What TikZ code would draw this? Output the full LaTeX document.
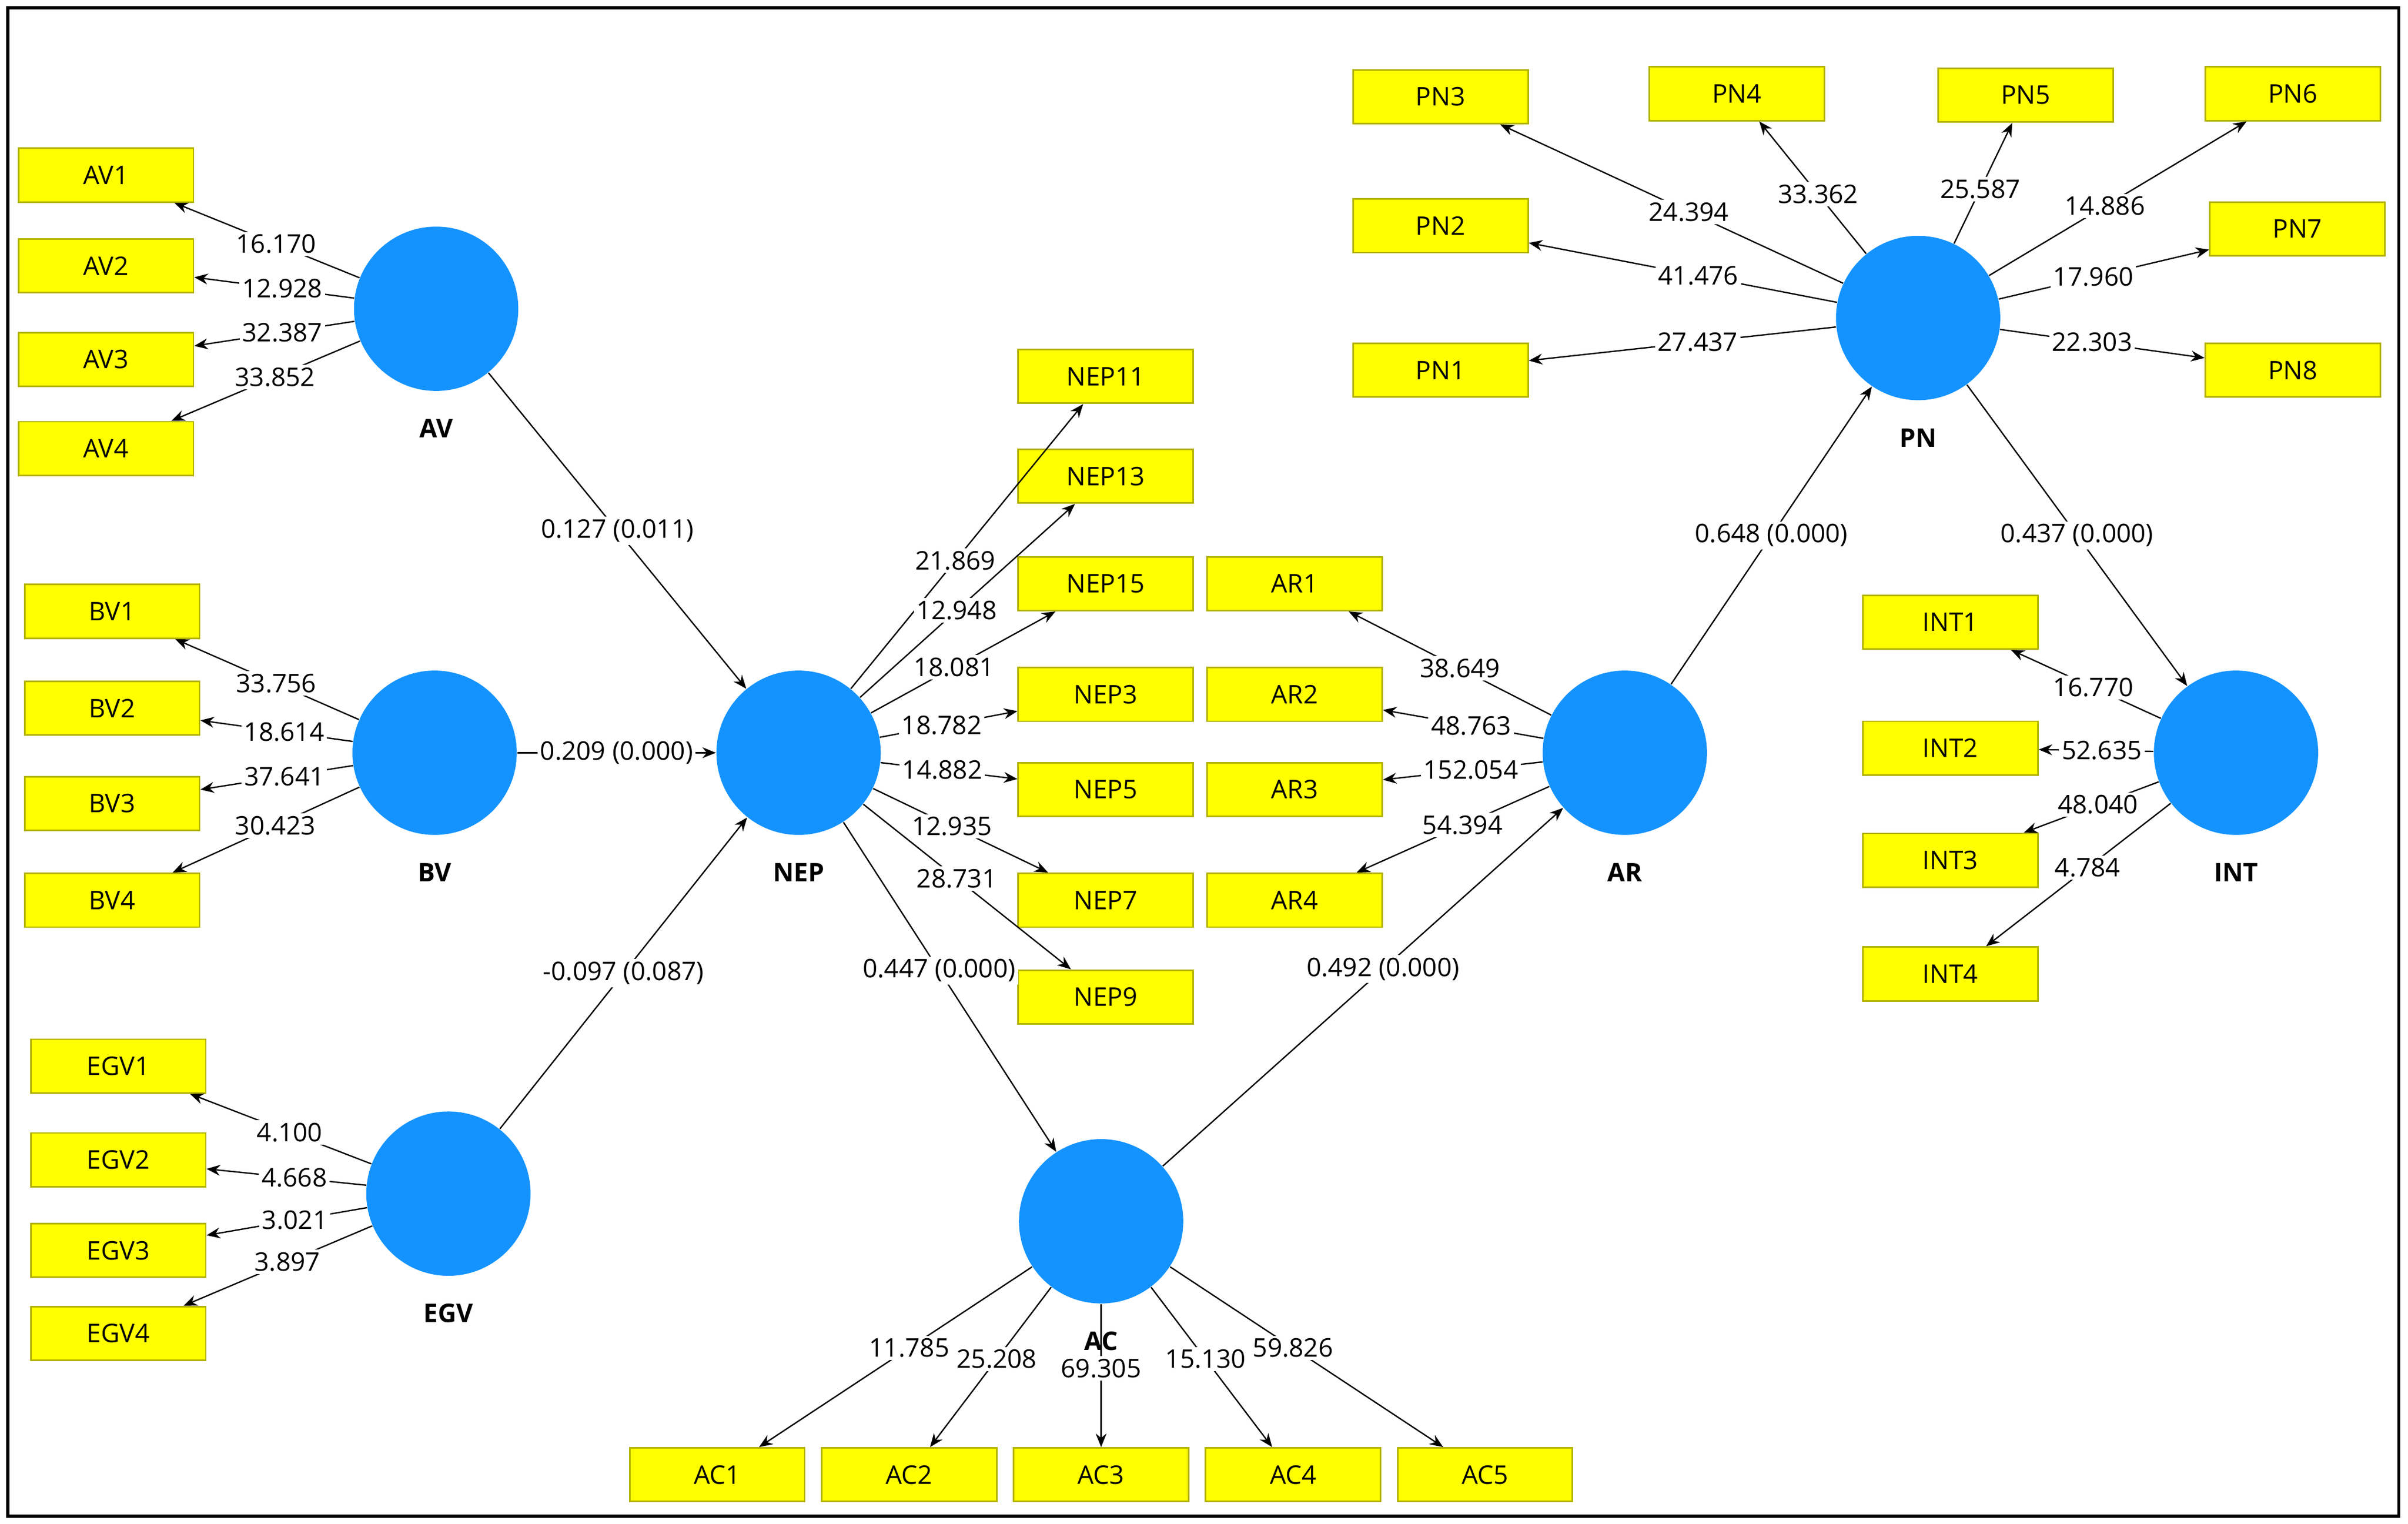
\documentclass[tikz,border=0pt]{standalone}
\usepackage{fontspec}
\setmainfont{Open Sans}
\usetikzlibrary{arrows.meta}
\definecolor{lvblue}{HTML}{1493FF}
\definecolor{ind}{HTML}{FFFF00}
\begin{document}
\begin{tikzpicture}[x=0.02cm,y=-0.02cm,
  lv/.style={circle,fill=lvblue,minimum size=2.14cm,inner sep=0},
  mv/.style={rectangle,fill=ind,draw=ind!70!black,line width=0.6pt,minimum width=2.28cm,minimum height=0.7cm,font=\fontsize{9.5}{11}\selectfont},
  lvl/.style={font=\bfseries\fontsize{9.5}{11}\selectfont},
  ar/.style={draw,-{Stealth[length=5pt,width=4pt]},line width=0.5pt},
  lab/.style={fill=white,inner sep=1pt,font=\fontsize{9.5}{11}\selectfont}]
\useasboundingbox (0,0) rectangle (1568,992);
\draw[line width=1.2pt] (5,5) rectangle (1562,987);
% latent
\foreach \n/\x/\y in {AV/284/201,BV/283/490,EGV/292/777,NEP/520/490,AC/717/795,AR/1058/490,PN/1249/207,INT/1456/490}{
  \node[lv] (\n) at (\x,\y) {};
  \node[lvl] (\n l) at (\x,\y+78) {\n};
}
% indicators
\foreach \n/\x/\y in {AV1/69/114,AV2/69/173,AV3/69/234,AV4/69/292,
 BV1/73/398,BV2/73/461,BV3/73/523,BV4/73/586,
 EGV1/77/694,EGV2/77/755,EGV3/77/814,EGV4/77/868,
 NEP11/720/245,NEP13/720/310,NEP15/720/380,NEP3/720/452,NEP5/720/514,NEP7/720/586,NEP9/720/649,
 AR1/843/380,AR2/843/452,AR3/843/514,AR4/843/586,
 PN3/938/63,PN2/938/147,PN1/938/241,PN4/1131/61,PN5/1319/62,PN6/1493/61,PN7/1496/149,PN8/1493/241,
 INT1/1270/405,INT2/1270/487,INT3/1270/560,INT4/1270/634,
 AC1/467/960,AC2/592/960,AC3/717/960,AC4/842/960,AC5/967/960}{
  \node[mv] (\n) at (\x,\y) {\n};
}
% loadings
\foreach \a/\b/\t in {AV/AV1/16.170,AV/AV2/12.928,AV/AV3/32.387,AV/AV4/33.852,
 BV/BV1/33.756,BV/BV2/18.614,BV/BV3/37.641,BV/BV4/30.423,
 EGV/EGV1/4.100,EGV/EGV2/4.668,EGV/EGV3/3.021,EGV/EGV4/3.897,
 NEP/NEP11/21.869,NEP/NEP13/12.948,NEP/NEP15/18.081,NEP/NEP3/18.782,NEP/NEP5/14.882,NEP/NEP7/12.935,NEP/NEP9/28.731,
 AR/AR1/38.649,AR/AR2/48.763,AR/AR3/152.054,AR/AR4/54.394,
 PN/PN3/24.394,PN/PN4/33.362,PN/PN5/25.587,PN/PN6/14.886,PN/PN2/41.476,PN/PN7/17.960,PN/PN1/27.437,PN/PN8/22.303,
 INT/INT1/16.770,INT/INT2/52.635,INT/INT3/48.040,INT/INT4/4.784,
 AC/AC1/11.785,AC/AC2/25.208,AC/AC3/69.305,AC/AC4/15.130,AC/AC5/59.826}{
  \draw[ar] (\a) -- node[lab,pos=0.45] {\t} (\b);
}
% paths
\draw[ar] (AV) -- node[lab] {0.127 (0.011)} (NEP);
\draw[ar] (BV) -- node[lab] {0.209 (0.000)} (NEP);
\draw[ar] (EGV) -- node[lab] {-0.097 (0.087)} (NEP);
\draw[ar] (NEP) -- node[lab,pos=0.45] {0.447 (0.000)} (AC);
\draw[ar] (AC) -- node[lab,pos=0.55] {0.492 (0.000)} (AR);
\draw[ar] (AR) -- node[lab] {0.648 (0.000)} (PN);
\draw[ar] (PN) -- node[lab] {0.437 (0.000)} (INT);
\end{tikzpicture}
\end{document}
